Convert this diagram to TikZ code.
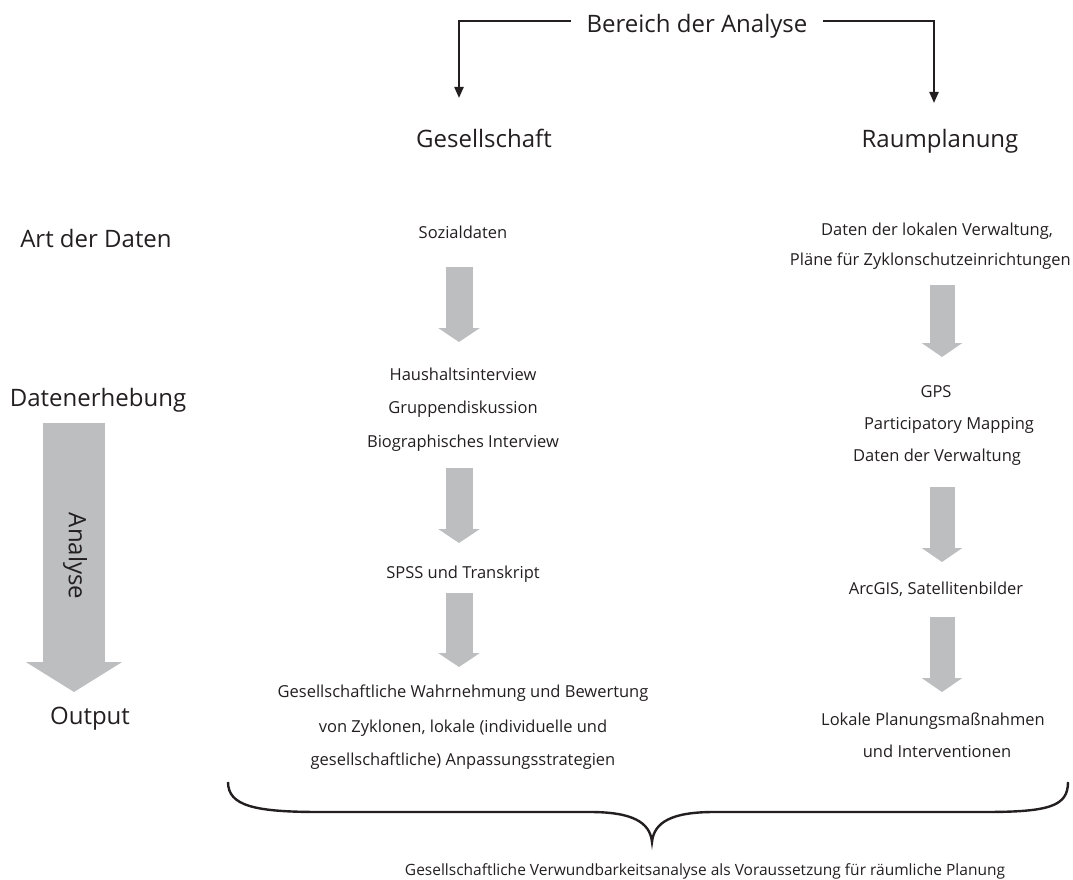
\documentclass[tikz,border=0pt]{standalone}
\usepackage{fontspec}
\setmainfont{Open Sans}
\usetikzlibrary{arrows.meta}
\definecolor{txt}{HTML}{231F20}
\definecolor{garr}{HTML}{BCBEC0}
\begin{document}
\begin{tikzpicture}[x=1pt,y=-1pt,
  big/.style={font=\fontsize{24}{29}\selectfont, text=txt, inner sep=0pt, anchor=base},
  small/.style={font=\fontsize{16.5}{20}\selectfont, text=txt, inner sep=0pt, anchor=base},
  foot/.style={font=\fontsize{15.5}{18}\selectfont, text=txt, inner sep=0pt, anchor=base},
  blkL/.style={draw=garr, line width=27pt, -{Triangle[width=41pt,length=14pt]}},
  blkR/.style={draw=garr, line width=25pt, -{Triangle[width=40pt,length=14pt]}},
  blkBig/.style={draw=garr, line width=62pt, -{Triangle[width=95pt,length=30pt]}},
  brk/.style={draw=txt, line width=2.2pt, -{Triangle[width=9pt,length=11pt]}},
  bracestyle/.style={draw=txt, line width=2.4pt}]
\useasboundingbox (0,0) rectangle (1073,880);

% title and bracket arrows
\node[big, inner xsep=15pt] (title) at (697,33) {Bereich der Analyse};
\coordinate (gtip) at (459,98);
\coordinate (rtip) at (934,103);
\draw[brk] ([yshift=6pt]title.west) -| (gtip);
\draw[brk] ([yshift=6pt]title.east) -| (rtip);

\node[big] (ges) at (484,147) {Gesellschaft};
\node[big] (raum) at (940,147) {Raumplanung};

% left labels
\node[big] (art) at (96,247) {Art der Daten};
\node[big] (erh) at (98,406) {Datenerhebung};
\node[big] (out) at (90,724) {Output};
\draw[blkBig] (74,423) -- (74,692);
\node[big, anchor=center, rotate=-90] (ana) at (75,556) {Analyse};

% left column
\node[small] (soz) at (463,238) {Sozialdaten};
\node[small] (h1) at (463,380) {Haushaltsinterview};
\node[small] (h2) at (463,413) {Gruppendiskussion};
\node[small] (h3) at (463,447) {Biographisches Interview};
\node[small] (spss) at (463,578) {SPSS und Transkript};
\node[small] (w1) at (463,697) {Gesellschaftliche Wahrnehmung und Bewertung};
\node[small] (w2) at (463,732) {von Zyklonen, lokale (individuelle und};
\node[small] (w3) at (463,765) {gesellschaftliche) Anpassungsstrategien};

\draw[blkL] (459,267) -- (459,342);
\draw[blkL] (459,468) -- (459,543);
\draw[blkL] (459,593) -- (459,667);

% right column
\node[small] (d1) at (937,235) {Daten der lokalen Verwaltung,};
\node[small, anchor=base east] (d2) at (1071,265) {Pläne für Zyklonschutzeinrichtungen};
\node[small] (g1) at (936,397) {GPS};
\node[small] (g2) at (949,429) {Participatory Mapping};
\node[small] (g3) at (937,461) {Daten der Verwaltung};
\node[small] (arc) at (936,594) {ArcGIS, Satellitenbilder};
\node[small] (l1) at (933,725) {Lokale Planungsmaßnahmen};
\node[small] (l2) at (937,757) {und Interventionen};

\draw[blkR] (942,285) -- (942,357);
\draw[blkR] (942,487) -- (942,562);
\draw[blkR] (942,617) -- (942,692);

% brace
\draw[bracestyle] (228,782) .. controls (228,806) and (255,812) .. (320,812)
  -- (590,812) .. controls (632,812) and (650,822) .. (652,842)
  .. controls (654,822) and (672,812) .. (714,812)
  -- (985,812) .. controls (1050,812) and (1068,806) .. (1068,782);

\node[foot] (bottom) at (705,875) {Gesellschaftliche Verwundbarkeitsanalyse als Voraussetzung für räumliche Planung};
\end{tikzpicture}
\end{document}
